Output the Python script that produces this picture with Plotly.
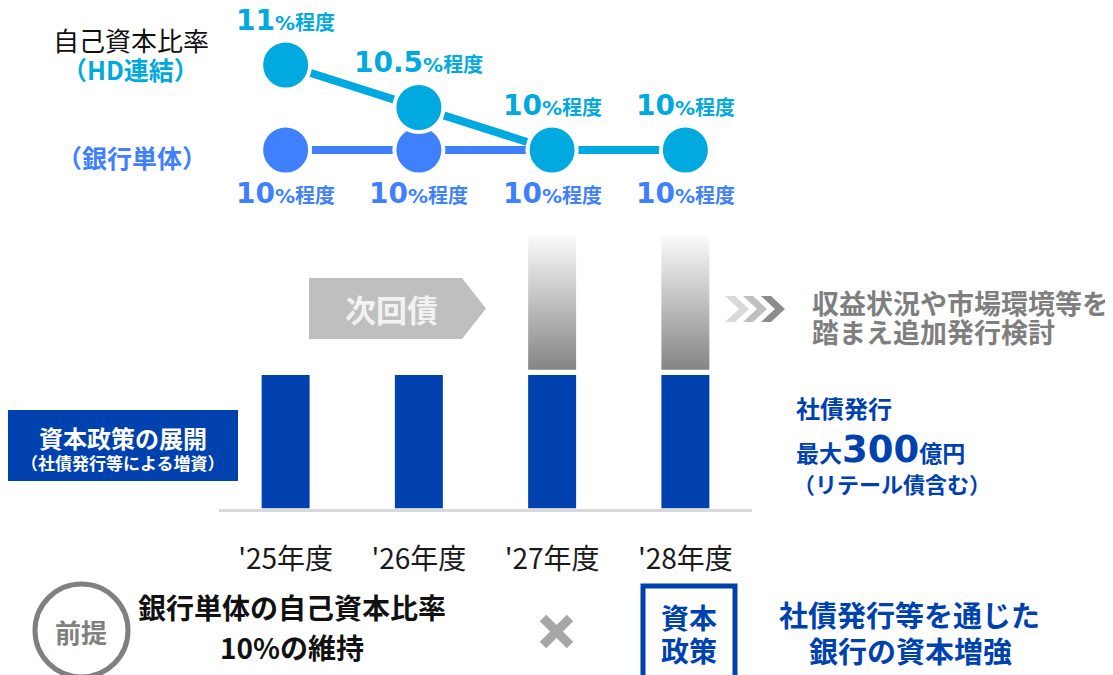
import plotly.graph_objects as go

# page body has an 8px margin: the figure is sized so that it fills the 1113x675 window
OFF = 8
W, H = 1113 - OFF, 675 - OFF

# ---------------- data ----------------
years = ["'25年度", "'26年度", "'27年度", "'28年度"]
hd_ratio = [11.0, 10.5, 10.0, 10.0]      # 自己資本比率（HD連結） %程度
bank_ratio = [10.0, 10.0, 10.0, 10.0]    # 自己資本比率（銀行単体） %程度
hd_labels = ["11", "10.5", "10", "10"]
bank_labels = ["10", "10", "10", "10"]
bond_issue = [1, 1, 1, 1]                # 社債発行（相対規模）
additional_issue = [0, 0, 1, 1]          # 追加発行検討（相対規模）

# ---------------- style ----------------
BLUE = "#0041B0"
CYAN = "#00A9DF"
BANKBLUE = "#3F80FF"
GRAY_TXT = "#7F7F7F"
CJK = "Noto Sans CJK JP"
NUMF = "DejaVu Sans, Noto Sans CJK JP"

BAR_W = 0.36
GAP = 0.04
UNIT_PX = 133.5
AX_BOTTOM_PX, AX_TOP_PX = 508.5, 236.0          # in screen pixels
REF_V, REF_PX, PX_PER_PT = 10.0, 150.0, 85.0     # ratio axis scale (screen pixels)
Y2_TOP_PX, Y2_BOT_PX = 8.0, 270.0


def px(x):
    return (x - OFF) / W


def py(y):
    return 1 - (y - OFF) / H


idx = list(range(len(years)))
fig = go.Figure()

# bars
fig.add_trace(go.Bar(x=idx, y=bond_issue, width=BAR_W, marker=dict(color=BLUE, line=dict(width=0)),
                     hoverinfo="skip", xaxis="x", yaxis="y"))

# gradient "future" bars
for i, a in enumerate(additional_issue):
    if a > 0:
        b = bond_issue[i] + GAP
        xs = [i - BAR_W / 2, i + BAR_W / 2, i + BAR_W / 2, i - BAR_W / 2, i - BAR_W / 2]
        ys = [b, b, b + a, b + a, b]
        fig.add_trace(go.Scatter(x=xs, y=ys, mode="lines", fill="toself",
                                 line=dict(width=0, color="rgba(0,0,0,0)"),
                                 fillgradient=dict(type="vertical",
                                                   colorscale=[[0, "#858585"], [1, "#FAFAFA"]]),
                                 hoverinfo="skip", xaxis="x", yaxis="y"))

# ratio lines
fig.add_trace(go.Scatter(x=idx, y=bank_ratio, mode="lines+markers",
                         line=dict(color=BANKBLUE, width=8),
                         marker=dict(size=49, color=BANKBLUE, line=dict(color="white", width=4)),
                         cliponaxis=False, hoverinfo="skip", xaxis="x", yaxis="y2"))
fig.add_trace(go.Scatter(x=idx, y=hd_ratio, mode="lines+markers",
                         line=dict(color=CYAN, width=8),
                         marker=dict(size=49, color=CYAN, line=dict(color="white", width=4)),
                         cliponaxis=False, hoverinfo="skip", xaxis="x", yaxis="y2"))

ann = []


def label(num):
    return f"<b>{num}<span style='font-size:20px'>%程度</span></b>"


for i, (v, t) in enumerate(zip(hd_ratio, hd_labels)):
    ann.append(dict(x=i, y=v, xref="x", yref="y2", yshift=45, text=label(t), showarrow=False,
                    font=dict(family=NUMF, size=28, color=CYAN), xanchor="center", yanchor="middle"))
for i, (v, t) in enumerate(zip(bank_ratio, bank_labels)):
    ann.append(dict(x=i, y=v, xref="x", yref="y2", yshift=-43, text=label(t), showarrow=False,
                    font=dict(family=NUMF, size=28, color=BANKBLUE), xanchor="center", yanchor="middle"))


def txt(text, x, y, size, color, xanchor="center", family=CJK):
    ann.append(dict(x=px(x), y=py(y), xref="paper", yref="paper", text=text, showarrow=False,
                    font=dict(family=family, size=size, color=color), xanchor=xanchor, yanchor="middle"))


txt("自己資本比率", 131, 39, 26, "#111111")
txt("<b>（HD連結）</b>", 130, 69, 25, CYAN)
txt("<b>（銀行単体）</b>", 132, 157, 25, BANKBLUE)

txt("<b>次回債</b>", 391, 308, 31, "#F2F2F2")
txt("<b>収益状況や市場環境等を</b>", 810, 302, 27, GRAY_TXT, "left")
txt("<b>踏まえ追加発行検討</b>", 810, 331, 27, GRAY_TXT, "left")

txt("<b>社債発行</b>", 794, 407, 24, BLUE, "left")
txt("<b>最大<span style='font-size:37px'>300</span>億円</b>", 794, 449, 23, BLUE, "left", NUMF)
txt("<b>（リテール債含む）</b>", 791, 483, 22, BLUE, "left")

txt("<b>資本政策の展開</b>", 123, 437, 24, "white")
txt("<b>（社債発行等による増資）</b>", 123, 462, 17, "white")

txt("<b>前提</b>", 81, 631, 26, "#808080")
txt("<b>銀行単体の自己資本比率</b>", 292, 607, 28, "#111111")
txt("<b>10%の維持</b>", 292, 647, 28, "#111111")
txt("<b>資本</b>", 689, 617, 28, BLUE)
txt("<b>政策</b>", 689, 650, 28, BLUE)
txt("<b>社債発行等を通じた</b>", 909, 614, 29, BLUE)
txt("<b>銀行の資本増強</b>", 910, 650, 29, BLUE)

shapes = []


def poly(pts, color):
    d = "M " + " L ".join(f"{px(x):.5f},{py(y):.5f}" for x, y in pts) + " Z"
    shapes.append(dict(type="path", xref="paper", yref="paper", path=d,
                       fillcolor=color, line=dict(width=0), layer="below"))


# 次回債 arrow
poly([(309, 278), (462, 278), (486, 308.5), (462, 339), (309, 339)], "#BFBFBF")
# chevrons
for x0, c in [(725, "#D9D9D9"), (743, "#BFBFBF"), (761, "#8C8C8C")]:
    w, t = 24, 10
    poly([(x0, 296), (x0 + t, 296), (x0 + w, 309), (x0 + t, 322), (x0, 322), (x0 + w - t, 309)], c)

# left blue box
shapes.append(dict(type="rect", xref="paper", yref="paper", x0=px(8), x1=px(238), y0=py(410), y1=py(481),
                   fillcolor=BLUE, line=dict(width=0), layer="below"))
# 前提 circle
shapes.append(dict(type="circle", xref="paper", yref="paper", x0=px(35), x1=px(128), y0=py(584), y1=py(677),
                   line=dict(color="#808080", width=5)))
# × mark
for (a, b), (c, d) in [((543, 618), (570, 645)), ((570, 618), (543, 645))]:
    shapes.append(dict(type="line", xref="paper", yref="paper", x0=px(a), y0=py(b), x1=px(c), y1=py(d),
                       line=dict(color="#A6A6A6", width=9)))
# 資本政策 square
shapes.append(dict(type="rect", xref="paper", yref="paper", x0=px(643), x1=px(735), y0=py(586), y1=py(680),
                   line=dict(color=BLUE, width=5), fillcolor="rgba(0,0,0,0)"))

y2_range = [REF_V - (Y2_BOT_PX - REF_PX) / PX_PER_PT, REF_V + (REF_PX - Y2_TOP_PX) / PX_PER_PT]

fig.update_layout(
    width=W, height=H, margin=dict(l=0, r=0, t=0, b=0),
    paper_bgcolor="white", plot_bgcolor="rgba(0,0,0,0)", showlegend=False,
    xaxis=dict(domain=[px(219), px(752)], range=[-0.5, 3.5], tickvals=idx, ticktext=years,
               tickfont=dict(family=CJK, size=28, color="#1a1a1a"), ticks="outside", ticklen=24,
               tickcolor="rgba(0,0,0,0)", showline=True, linecolor="#D9D9D9", linewidth=3,
               showgrid=False, zeroline=False, fixedrange=True),
    yaxis=dict(domain=[py(AX_BOTTOM_PX), py(AX_TOP_PX)],
               range=[0, (AX_BOTTOM_PX - AX_TOP_PX) / UNIT_PX],
               visible=False, showgrid=False, zeroline=False),
    yaxis2=dict(domain=[py(Y2_BOT_PX), py(Y2_TOP_PX)], range=y2_range, anchor="x",
                visible=False, showgrid=False, zeroline=False),
    annotations=ann, shapes=shapes,
)

fig.write_html("out.html")
